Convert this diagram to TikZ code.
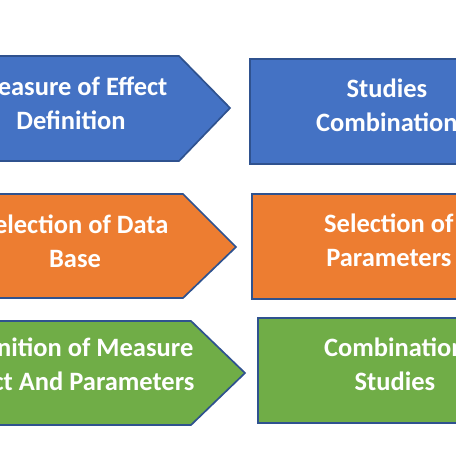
\documentclass[tikz,border=0pt]{standalone}
\usepackage{fontspec}
\setmainfont{Carlito}
\usetikzlibrary{positioning}
\definecolor{effblue}{HTML}{4472C4}
\definecolor{baseorange}{HTML}{ED7D31}
\definecolor{parmgreen}{HTML}{70AD47}
\definecolor{rimblue}{HTML}{2F528F}
\tikzset{
  tag/.style   = {draw=rimblue, line width=1.7pt, line join=miter},
  txt/.style   = {text=white, align=center, inner sep=0pt,
                  font=\fontsize{26.5}{34}\selectfont\bfseries},
  box/.style   = {tag, anchor=north west,
                  minimum width=274pt, minimum height=105pt},
  blue/.style  = {fill=effblue},
  orng/.style  = {fill=baseorange},
  grn/.style   = {fill=parmgreen}
}
\begin{document}
\begin{tikzpicture}[x=1pt, y=-1pt]
  \useasboundingbox (0,0) rectangle (456,456);
  \clip (0,0) rectangle (456,456);

  % left column: pointed tags
  \draw[tag, blue] (-60,56)  -- (179,56)  -- (230,108) -- (179,161) -- (-60,161) -- cycle;
  \draw[tag, orng] (-60,194) -- (183,194) -- (236,247) -- (183,298) -- (-60,298) -- cycle;
  \draw[tag, grn]  (-60,321) -- (191,321) -- (245,373) -- (191,425) -- (-60,425) -- cycle;

  \node[txt] (mdef) at (71,103) {Measure of Effect\\Definition};
  \node[txt] (sel)  at (75,241) {Selection of Data\\Base};
  \node[txt] (dmp)  at (73,364) {Definition of Measure\\Effect And Parameters};

  % right column: boxes
  \node[box, blue] (comb) at (249,58)  {};
  \node[box, orng] (par)  at (251,193) {};
  \node[box, grn]  (cst)  at (257,317) {};

  \node[txt, yshift=6.5pt] (combt) at (comb.center) {Studies\\Combination};
  \node[txt, yshift=6pt]   (part)  at (par.center)  {Selection of\\Parameters};
  \node[txt, yshift=6pt]   (cstt)  at (cst.center)  {Combination\\Studies};
\end{tikzpicture}
\end{document}
